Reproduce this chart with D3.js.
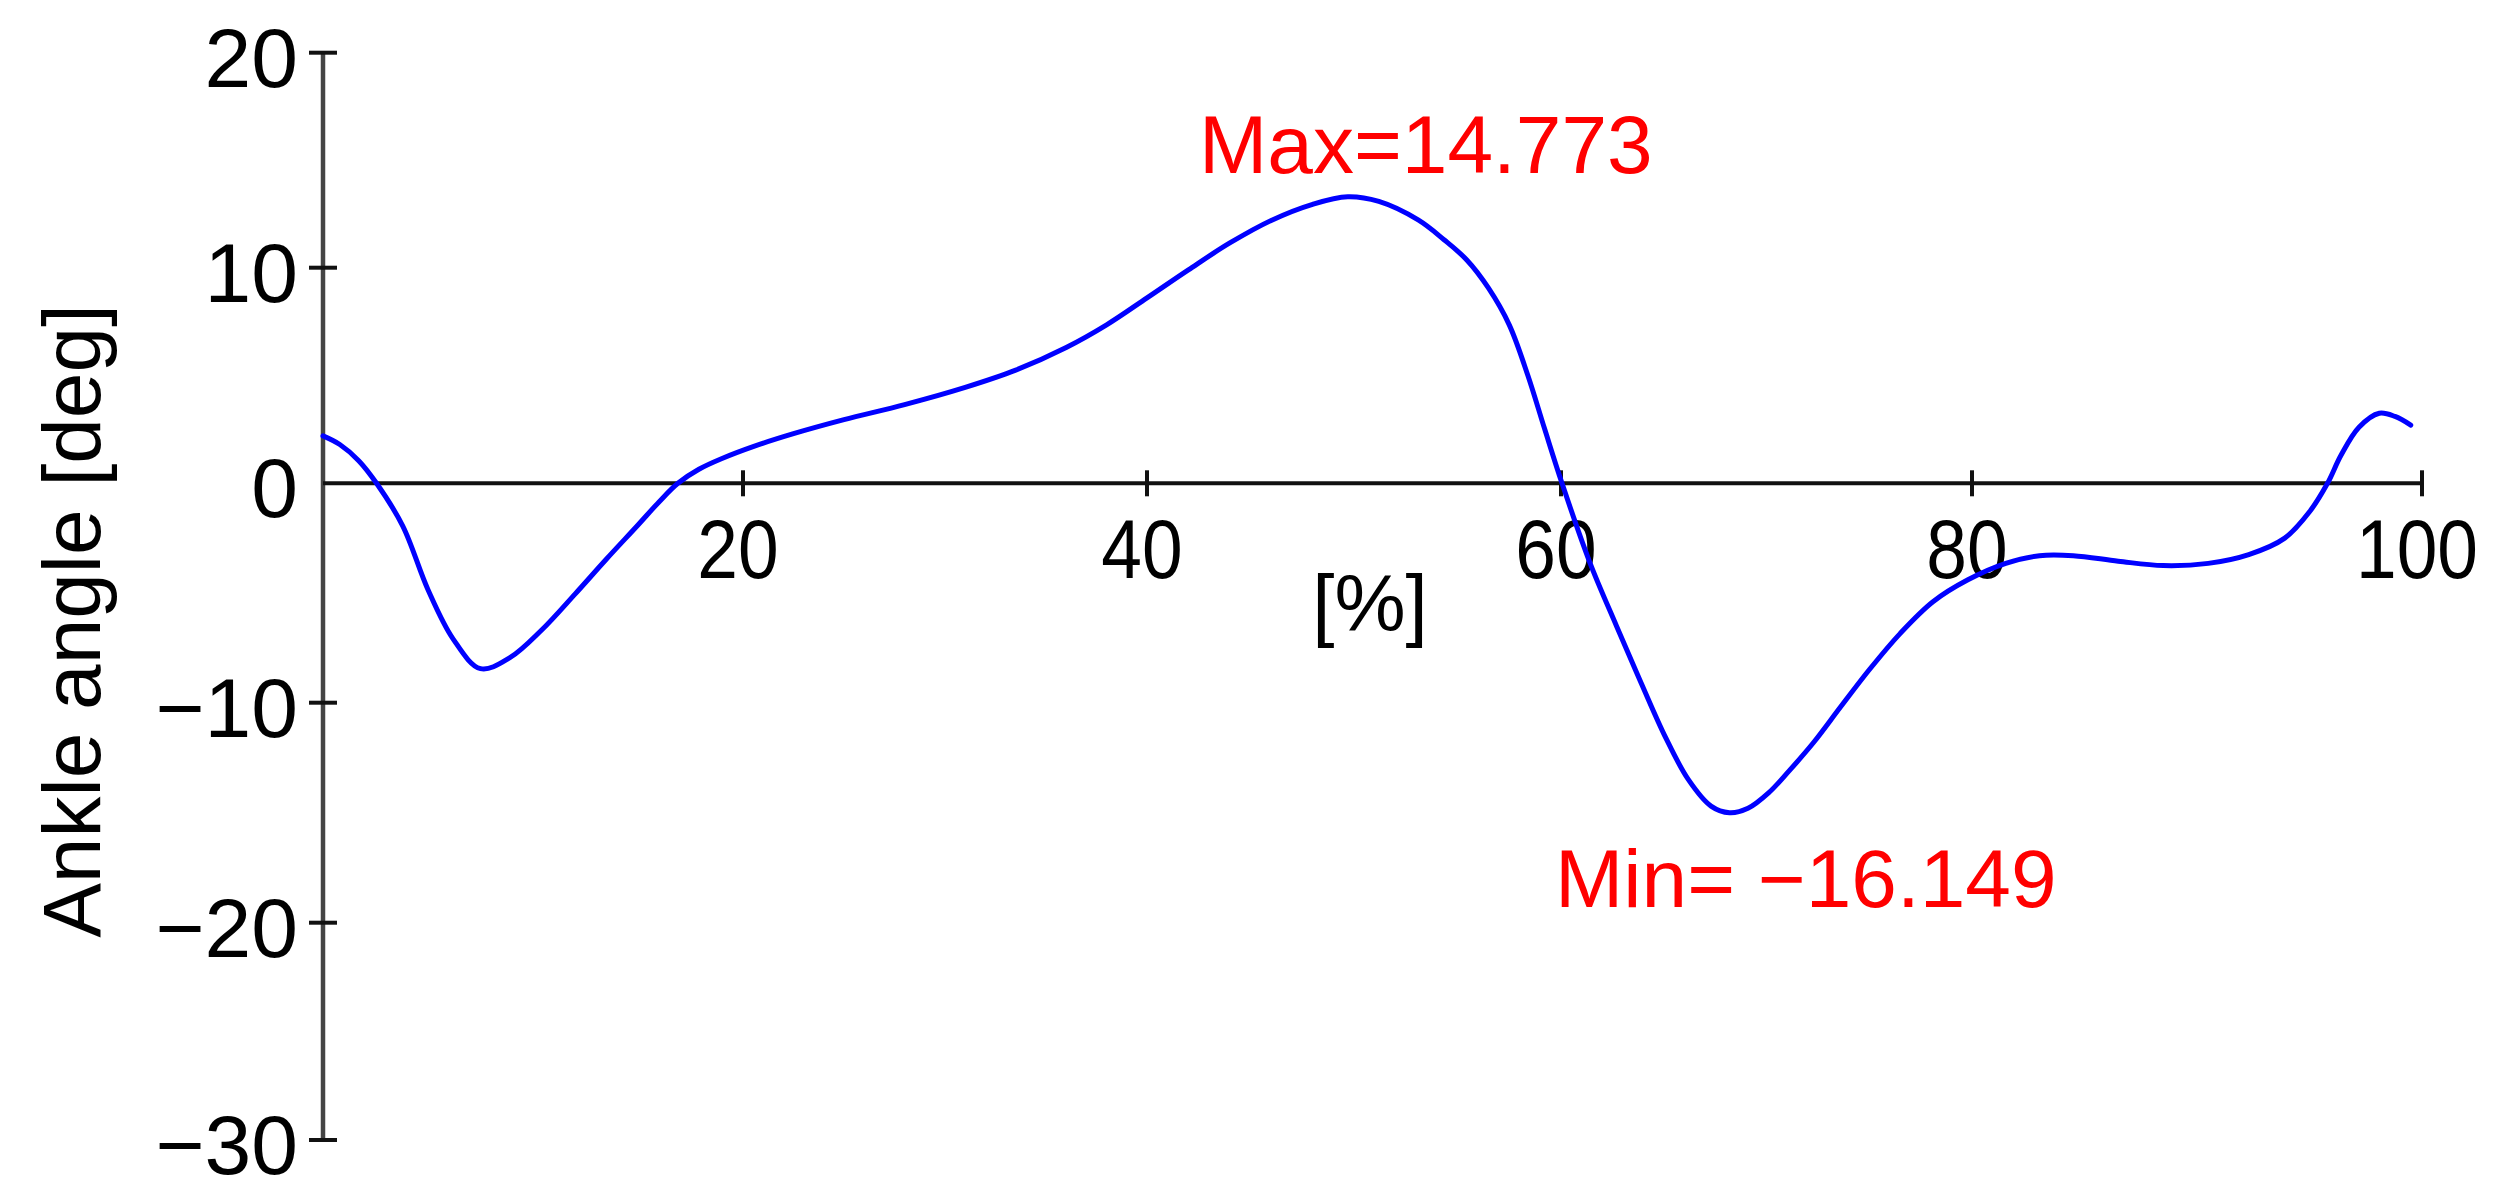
<!DOCTYPE html>
<html>
<head>
<meta charset="utf-8">
<script src="https://cdn.jsdelivr.net/npm/d3@7/dist/d3.min.js"></script>
<style>
  html, body { margin: 0; padding: 0; background: #fff; }
  svg { display: block; }
  text { font-family: "Liberation Sans", Arial, Helvetica, sans-serif; }
</style>
</head>
<body>
<svg id="chart" width="2499" height="1204"></svg>
<script>
// ---- data ----
const pct = [0, 0.8, 1.7, 2.55, 3.8, 5.0, 6.2, 7.5, 8.9, 10.4, 12.0, 13.5, 15.0, 16.0, 16.9, 17.9, 19.0, 20.5, 22.5, 25, 28, 31, 33.5, 36, 38, 40, 42, 44, 46, 48, 49.7, 51.2, 53.1, 54.35, 55.45, 56.5, 57.5, 58.4, 59.2, 60.05, 61.4, 62.7, 63.9, 65.1, 66.2, 67.3, 68.2, 69.1, 70.1, 71.1, 72.3, 73.6, 75.0, 76.5, 78.1, 79.8, 81.5, 83.0, 84.5, 86.5, 88.5, 90.5, 92.3, 93.9, 95.0, 95.8, 96.4, 97.2, 98.1, 98.8, 99.5];
const angle = [2.2, 1.8, 1.05, 0, -1.95, -4.85, -7.1, -8.45, -7.95, -6.7, -5.05, -3.45, -1.9, -0.85, 0, 0.65, 1.15, 1.7, 2.3, 2.95, 3.65, 4.45, 5.25, 6.3, 7.35, 8.6, 9.9, 11.15, 12.2, 12.95, 13.3, 13.08, 12.22, 11.3, 10.36, 9.05, 7.35, 5.0, 2.55, 0, -3.6, -6.5, -9.1, -11.6, -13.5, -14.7, -15.0, -14.8, -14.1, -13.1, -11.8, -10.2, -8.5, -6.85, -5.4, -4.4, -3.65, -3.3, -3.3, -3.55, -3.75, -3.65, -3.25, -2.5, -1.3, 0, 1.3, 2.6, 3.25, 3.1, 2.7];
const xTicks = [0, 20, 40, 60, 80, 100];
const yTicks = [-30, -20, -10, 0, 10, 20];
const xLabel = "[%]";
const yLabel = "Ankle angle [deg]";
const maxText = "Max=14.773";
const minText = "Min= \u221216.149";

// ---- layout (axis calibration of the reference picture) ----
const x = d3.scaleLinear().domain(xTicks).range([323, 743, 1147, 1561, 1972, 2422]);
const y = d3.scaleLinear().domain(yTicks).range([1140, 922.7, 702.7, 483.3, 267.7, 52.7]);
const fmt = v => (v < 0 ? "\u2212" + Math.abs(v) : String(v));

const svg = d3.select("#chart");
svg.append("rect").attr("width", 2499).attr("height", 1204).attr("fill", "#fff");

// y axis line
svg.append("line")
  .attr("x1", x(0)).attr("x2", x(0))
  .attr("y1", y(20)).attr("y2", y(-30))
  .attr("stroke", "#444").attr("stroke-width", 4.5);

// y ticks (crossing) except 0
svg.selectAll("line.ytick").data(yTicks.filter(d => d !== 0)).enter().append("line")
  .attr("class", "ytick")
  .attr("x1", x(0) - 14).attr("x2", x(0) + 14)
  .attr("y1", d => y(d)).attr("y2", d => y(d))
  .attr("stroke", "#111").attr("stroke-width", 4);

// y tick labels
svg.selectAll("text.ylab").data(yTicks).enter().append("text")
  .attr("class", "ylab")
  .attr("x", 298)
  .attr("y", d => y(d) + 34)
  .attr("text-anchor", "end")
  .attr("font-size", 84)
  .attr("fill", "#000")
  .text(fmt);

// x axis line (at y = 0)
svg.append("line")
  .attr("x1", x(0)).attr("x2", x(100))
  .attr("y1", y(0)).attr("y2", y(0))
  .attr("stroke", "#111").attr("stroke-width", 4);

// x ticks (crossing)
svg.selectAll("line.xtick").data(xTicks.filter(d => d !== 0)).enter().append("line")
  .attr("class", "xtick")
  .attr("x1", d => x(d)).attr("x2", d => x(d))
  .attr("y1", y(0) - 13).attr("y2", y(0) + 13)
  .attr("stroke", "#111").attr("stroke-width", 4);

// x tick labels (slightly condensed in the reference)
svg.selectAll("text.xlab").data(xTicks.filter(d => d !== 0)).enter().append("text")
  .attr("class", "xlab")
  .attr("transform", d => `translate(${x(d) - 5},${578}) scale(0.87,1)`)
  .attr("text-anchor", "middle")
  .attr("font-size", 84)
  .attr("fill", "#000")
  .text(fmt);

// axis titles
svg.append("text")
  .attr("x", 1370).attr("y", 631)
  .attr("text-anchor", "middle")
  .attr("font-size", 80)
  .attr("fill", "#000")
  .text(xLabel);

svg.append("text")
  .attr("transform", "translate(100,621) rotate(-90)")
  .attr("text-anchor", "middle")
  .attr("font-size", 82)
  .attr("fill", "#000")
  .text(yLabel);

// curve
const pts = pct.map((p, i) => [p, angle[i]]);
const line = d3.line()
  .x(d => x(d[0]))
  .y(d => y(d[1]))
  .curve(d3.curveCatmullRom.alpha(0.5));
svg.append("path")
  .attr("d", line(pts))
  .attr("fill", "none")
  .attr("stroke", "#0000ff")
  .attr("stroke-width", 5)
  .attr("stroke-linejoin", "round")
  .attr("stroke-linecap", "round");

// annotations
svg.append("text")
  .attr("x", 1199).attr("y", 173)
  .attr("font-size", 82)
  .attr("fill", "#ff0000")
  .text(maxText);

svg.append("text")
  .attr("x", 1555).attr("y", 907)
  .attr("font-size", 82)
  .attr("fill", "#ff0000")
  .text(minText);
</script>
</body>
</html>
